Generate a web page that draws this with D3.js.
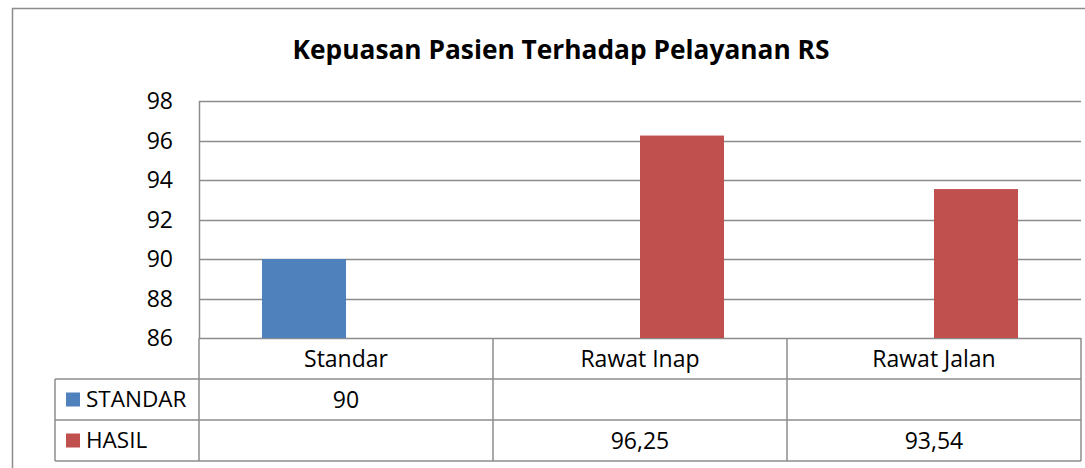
<!DOCTYPE html>
<html>
<head>
<meta charset="utf-8">
<script src="https://cdn.jsdelivr.net/npm/d3@7"></script>
<style>
  body { margin: 0; background: #fff; }
  svg { display: block; font-family: "Open Sans", "Noto Sans", sans-serif; }
</style>
</head>
<body>
<div id="chart"></div>
<script>
const categories = ["Standar", "Rawat Inap", "Rawat Jalan"];
const seriesNames = ["STANDAR", "HASIL"];
const standarValues = [90, null, null];
const hasilValues = [null, 96.25, 93.54];
const yTicks = [86, 88, 90, 92, 94, 96, 98];
const colors = ["#4F81BD", "#C0504D"];

const allSeries = [standarValues, hasilValues];

const W = 1085, H = 468;
const plot = { left: 199, right: 1081, top: 101, bottom: 338 };
const rowH = 41;
const fs = 23;

const svg = d3.select("#chart").append("svg")
    .attr("width", W)
    .attr("height", H);

// chart border
svg.append("rect")
    .attr("x", 12.5).attr("y", 8.5)
    .attr("width", 1100).attr("height", 470)
    .attr("fill", "none")
    .attr("stroke", "#8c8c8c")
    .attr("stroke-width", 1.5);

// title
svg.append("text")
    .attr("x", 561).attr("y", 59)
    .attr("text-anchor", "middle")
    .attr("font-size", 26.3)
    .attr("font-weight", "bold")
    .text("Kepuasan Pasien Terhadap Pelayanan RS");

const x = d3.scaleBand()
    .domain(categories)
    .range([plot.left, plot.right]);

const y = d3.scaleLinear()
    .domain([86, 98])
    .range([plot.bottom, plot.top]);

const barW = x.bandwidth() * 0.2857;

// gridlines
svg.append("g")
    .selectAll("line")
    .data(yTicks)
    .join("line")
    .attr("x1", plot.left).attr("x2", plot.right)
    .attr("y1", d => Math.round(y(d)) + 0.5)
    .attr("y2", d => Math.round(y(d)) + 0.5)
    .attr("stroke", "#8c8c8c")
    .attr("stroke-width", 1.5);

// y axis line
svg.append("line")
    .attr("x1", plot.left + 0.5).attr("x2", plot.left + 0.5)
    .attr("y1", plot.top).attr("y2", plot.bottom)
    .attr("stroke", "#8c8c8c")
    .attr("stroke-width", 1.5);

// y labels
svg.append("g")
    .selectAll("text")
    .data(yTicks)
    .join("text")
    .attr("x", 173)
    .attr("y", d => y(d))
    .attr("dy", "0.35em")
    .attr("text-anchor", "end")
    .attr("font-size", fs)
    .text(d => d);

// bars
allSeries.forEach((vals, si) => {
    svg.append("g")
        .selectAll("rect")
        .data(categories.map((c, i) => ({ c, v: vals[i] })).filter(d => d.v != null))
        .join("rect")
        .attr("x", d => x(d.c) + x.bandwidth() / 2 - barW + si * barW)
        .attr("y", d => y(d.v))
        .attr("width", barW)
        .attr("height", d => y(86) - y(d.v))
        .attr("fill", colors[si]);
});

// data table
const tableTop = plot.bottom;
const tableLeft = 55;
const tg = svg.append("g")
    .attr("stroke", "#8c8c8c")
    .attr("stroke-width", 1.5);

[1, 2, 3].forEach(r => {
    tg.append("line")
        .attr("x1", tableLeft).attr("x2", plot.right)
        .attr("y1", tableTop + r * rowH).attr("y2", tableTop + r * rowH);
});
tg.append("line")
    .attr("x1", tableLeft).attr("x2", tableLeft)
    .attr("y1", tableTop + rowH).attr("y2", tableTop + 3 * rowH);
categories.forEach(c => {
    tg.append("line")
        .attr("x1", x(c)).attr("x2", x(c))
        .attr("y1", tableTop).attr("y2", tableTop + 3 * rowH);
});
tg.append("line")
    .attr("x1", plot.right).attr("x2", plot.right)
    .attr("y1", tableTop).attr("y2", tableTop + 3 * rowH);

// category labels
svg.append("g")
    .selectAll("text")
    .data(categories)
    .join("text")
    .attr("x", d => x(d) + x.bandwidth() / 2)
    .attr("y", tableTop + rowH / 2)
    .attr("dy", "0.35em")
    .attr("text-anchor", "middle")
    .attr("font-size", fs)
    .text(d => d);

const fmt = v => String(v).replace(".", ",");

// series rows
seriesNames.forEach((name, si) => {
    const cy = tableTop + rowH * (si + 1) + rowH / 2;
    svg.append("rect")
        .attr("x", 66).attr("y", cy - 7)
        .attr("width", 14).attr("height", 14)
        .attr("fill", colors[si]);
    svg.append("text")
        .attr("x", 86).attr("y", cy)
        .attr("dy", "0.35em")
        .attr("font-size", 22.5)
        .text(name);
    svg.append("g")
        .selectAll("text")
        .data(categories.map((c, i) => ({ c, v: allSeries[si][i] })).filter(d => d.v != null))
        .join("text")
        .attr("x", d => x(d.c) + x.bandwidth() / 2)
        .attr("y", cy)
        .attr("dy", "0.35em")
        .attr("text-anchor", "middle")
        .attr("font-size", fs)
        .text(d => fmt(d.v));
});
</script>
</body>
</html>
